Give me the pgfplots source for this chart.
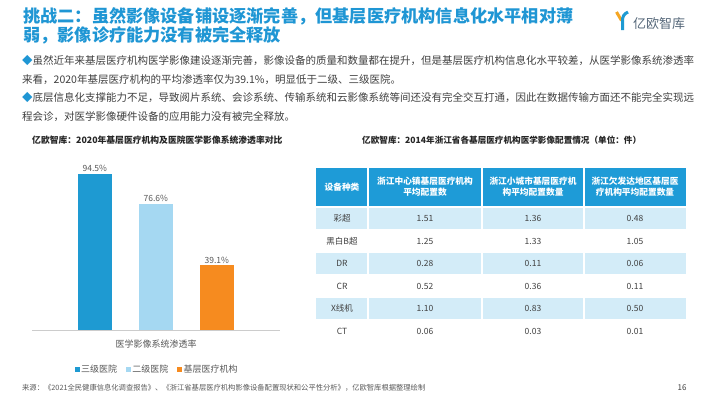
\documentclass[border=0pt]{standalone}
\usepackage{fontspec}
\setmainfont{Noto Sans CJK SC}
\usepackage{pgfplots}
\pgfplotsset{compat=1.18}
\definecolor{ttl}{HTML}{1F96D4}
\definecolor{dblue}{HTML}{1E9AD2}
\definecolor{lblue}{HTML}{A5D8F2}
\definecolor{orng}{HTML}{F68B1F}
\definecolor{hdr}{HTML}{1E9BD7}
\definecolor{rowb}{HTML}{D3ECF8}
\definecolor{txt}{HTML}{404040}
\definecolor{gry}{HTML}{595959}
\definecolor{logot}{HTML}{56687A}
\definecolor{logoy}{HTML}{F5A623}
\begin{document}
\begin{tikzpicture}
\fill[white] (0,0) rectangle (710pt,-399pt);
\path[use as bounding box] (0,0) rectangle (710pt,-399pt);
\begin{scope}[x=1pt,y=-1pt]
% title
\node[anchor=west,inner sep=0,text=ttl,font=\fontsize{17.2}{18}\selectfont\bfseries] at (23,16) {挑战二：虽然影像设备铺设逐渐完善，但基层医疗机构信息化水平相对薄};
\node[anchor=west,inner sep=0,text=ttl,font=\fontsize{17.2}{18}\selectfont\bfseries] at (23,35) {弱，影像诊疗能力没有被完全释放};
% logo
\draw[line width=3pt,logoy] (616.5,12) -- (621.5,20.5);
\draw[line width=3pt,dblue] (628,12) .. controls (623.5,14) and (622.5,17) .. (622.5,21) -- (622.5,30);
\node[anchor=west,inner sep=0,text=logot,font=\fontsize{13}{14}\selectfont] at (633,24) {亿欧智库};
% body text
\begin{scope}[every node/.style={anchor=west,inner sep=0,text=txt,font=\fontsize{10.5}{12}\selectfont}]
\node at (22,61) {\textcolor{ttl}{◆}虽然近年来基层医疗机构医学影像建设逐渐完善，影像设备的质量和数量都在提升，但是基层医疗机构信息化水平较差，从医学影像系统渗透率};
\node at (22,80) {来看，2020年基层医疗机构的平均渗透率仅为39.1\%，明显低于二级、三级医院。};
\node at (22,98) {\textcolor{ttl}{◆}底层信息化支撑能力不足，导致阅片系统、会诊系统、传输系统和云影像系统等间还没有完全交互打通，因此在数据传输方面还不能完全实现远};
\node at (22,117) {程会诊，对医学影像硬件设备的应用能力没有被完全释放。};
\end{scope}
% chart titles
\node[anchor=west,inner sep=0,text=black!85,font=\fontsize{8.8}{10}\selectfont\bfseries] at (32,140) {亿欧智库：2020年基层医疗机构及医院医学影像系统渗透率对比};
\node[anchor=west,inner sep=0,text=black!85,font=\fontsize{8.6}{10}\selectfont\bfseries] at (362,140) {亿欧智库：2014年浙江省各基层医疗机构医学影像配置情况（单位：件）};
% x label
\node[text=gry,inner sep=0,font=\fontsize{9}{10}\selectfont] at (156,344) {医学影像系统渗透率};
% table
\fill[hdr] (316,168) rectangle (686,206);
\foreach \i in {0,2,4} {\fill[rowb] (316,207.5+22.5*\i) rectangle (686,229+22.5*\i);}
\foreach \xx in {368,482,584} {\draw[white,line width=1.2pt] (\xx,168) -- (\xx,330);}
\begin{scope}[every node/.style={align=center,inner sep=0,text=white,font=\fontsize{8.7}{11}\selectfont\bfseries}]
\node at (342,187) {设备种类};
\node at (425,187) {浙江中心镇基层医疗机构\\平均配置数};
\node at (533,187) {浙江小城市基层医疗机\\构平均配置数量};
\node at (635,187) {浙江欠发达地区基层医\\疗机构平均配置数量};
\end{scope}
\begin{scope}[every node/.style={inner sep=0,text=txt,font=\fontsize{8.5}{10}\selectfont}]
\foreach \n/\a/\b/\c [count=\i from 0] in {彩超/1.51/1.36/0.48,黑白B超/1.25/1.33/1.05,DR/0.28/0.11/0.06,CR/0.52/0.36/0.11,X线机/1.10/0.83/0.50,CT/0.06/0.03/0.01}{
  \node at (342,218.5+22.5*\i) {\n};
  \node at (425,218.5+22.5*\i) {\a};
  \node at (533,218.5+22.5*\i) {\b};
  \node at (635,218.5+22.5*\i) {\c};
}
\end{scope}
% footer
\node[anchor=west,inner sep=0,text=gry,font=\fontsize{7.3}{8}\selectfont] at (22,388) {来源：《2021全民健康信息化调查报告》、《浙江省基层医疗机构影像设备配置现状和公平性分析》，亿欧智库根据整理绘制};
\node[inner sep=0,text=txt,font=\fontsize{8}{9}\selectfont] at (682,388) {16};
\end{scope}
% bar chart
\begin{axis}[at={(32pt,-330pt)},anchor=south west,
  x=61pt,y=1.65pt,xmin=-1.03,xmax=3.03,ymin=0,ymax=100,
  ybar,bar width=34pt,bar shift=0pt,
  axis x line*=bottom,axis y line=none,
  x axis line style={draw=black!20,-},
  xtick=\empty,ytick=\empty,
  point meta=explicit symbolic,
  nodes near coords,
  nodes near coords style={font=\fontsize{8.5}{10}\selectfont,text=gry,inner sep=2pt},
  clip=false,
  legend columns=3,
  legend image code/.code={\fill[#1] (0pt,-2.6pt) rectangle (5.2pt,2.6pt);},
  legend style={at={(0.504,-0.24)},anchor=center,draw=none,fill=none,
    font=\fontsize{9}{10}\selectfont,text=gry,
    /tikz/every even column/.append style={column sep=7pt},
    nodes={inner sep=1.5pt}},
  ]
\addplot[fill=dblue,draw=none] coordinates {(0,94.5) [94.5\%]};
\addplot[fill=lblue,draw=none] coordinates {(1,76.6) [76.6\%]};
\addplot[fill=orng,draw=none] coordinates {(2,39.1) [39.1\%]};
\legend{三级医院,二级医院,基层医疗机构}
\end{axis}
\end{tikzpicture}
\end{document}
